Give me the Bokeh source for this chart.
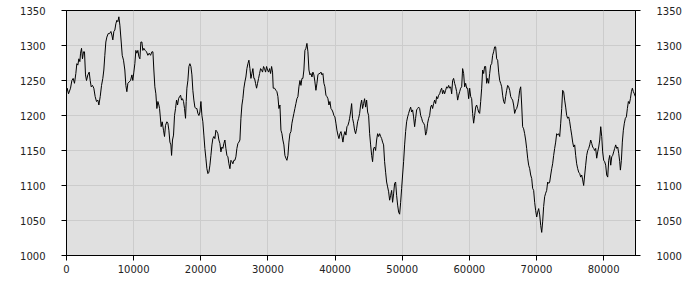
from bokeh.plotting import figure
from bokeh.models import Range1d, LinearAxis, FixedTicker, ColumnDataSource
from bokeh.embed import file_html
from bokeh.resources import INLINE

x_values = [
    0, 100, 300, 600, 800, 990, 1190, 1390, 1540, 1690, 1840, 1990, 2090, 2240, 2380, 2530, 2680, 2830, 2980, 3180,
    3380, 3530, 3680, 3870, 4070, 4270, 4470, 4670, 4820, 5020, 5220, 5410, 5560, 5710, 5860, 6010, 6210, 6410, 6610, 6760,
    6900, 7050, 7200, 7350, 7500, 7650, 7800, 7950, 8150, 8300, 8490, 8690, 8840, 8990, 9140, 9340, 9540, 9740, 9880, 10030,
    10180, 10330, 10480, 10630, 10780, 10930, 11080, 11230, 11370, 11520, 11720, 11920, 12120, 12320, 12520, 12720, 12870, 13010, 13160, 13310,
    13460, 13610, 13760,
    13860, 14100, 14250, 14450, 14600, 14750, 14950, 15100, 15250, 15400, 15550, 15650, 15790, 15940, 16090, 16240, 16390, 16540, 16690, 16840,
    16990, 17140, 17280, 17430, 17580, 17730, 17830, 17930, 18080, 18230, 18380, 18530, 18680, 18820, 18970, 19120, 19270, 19420, 19570, 19720,
    19870, 20020, 20170, 20310, 20460, 20610, 20760, 20910, 21060, 21210, 21360, 21510, 21660, 21800, 21950, 22100, 22250, 22400, 22550, 22700,
    22850, 23000, 23150, 23290, 23440, 23590, 23740, 23890, 24040, 24190, 24340, 24490, 24640, 24780, 24930, 25080, 25230, 25380, 25530, 25680,
    25830, 25980, 26130, 26270, 26420, 26570, 26720, 26870, 27020, 27170, 27320, 27470, 27620, 27760, 27910,
    28010, 28160, 28310, 28460, 28610, 28760, 28910, 29060, 29200, 29350, 29500, 29650, 29800, 29950, 30100, 30250, 30400, 30550, 30690, 30790,
    30990, 31190, 31340, 31490, 31640, 31790, 31940, 32090, 32230, 32380, 32530, 32680, 32830, 32980, 33130, 33280, 33430, 33580, 33720, 33870,
    34020, 34170, 34320, 34470, 34620, 34770, 34920, 35070, 35210, 35360, 35510, 35660, 35810, 35960, 36110, 36260, 36410, 36560, 36700, 36850,
    37000, 37150, 37300, 37450, 37600, 37750, 37900, 38050, 38190, 38340, 38490, 38640, 38790, 38940, 39090, 39240, 39390, 39540, 39680, 39830,
    39980, 40130, 40280, 40430, 40580, 40730, 40880, 41030, 41170, 41320, 41470, 41620, 41770, 41920, 42070,
    42170, 42320, 42470, 42610, 42760, 42910, 43060, 43210, 43360, 43510, 43660, 43810, 43960, 44100, 44250, 44400, 44550, 44700, 44850, 45000,
    45150, 45300, 45450, 45590, 45740, 45890, 46040, 46190, 46340, 46490, 46640, 46790, 46940, 47080, 47230, 47380, 47530, 47680, 47830, 47980,
    48130, 48280, 48430, 48570, 48720, 48870, 49020, 49170, 49320, 49470, 49620, 49770, 49920, 50060, 50210, 50360, 50510, 50660, 50810, 50960,
    51110, 51260, 51410, 51550, 51700, 51850, 52000, 52150, 52300, 52450, 52600, 52750, 52900, 53040, 53190, 53340, 53490, 53640, 53790, 53940,
    54090, 54240, 54390, 54530, 54680, 54830, 54980, 55130, 55280, 55430, 55580, 55730, 55880, 56020, 56170,
    56320, 56470, 56620, 56770, 56920, 57070, 57220, 57370, 57510, 57660, 57810, 57960, 58110, 58260, 58410, 58560, 58710, 58860, 59000, 59150,
    59300, 59450, 59600, 59750, 59900, 60050, 60200, 60350, 60490, 60640, 60790, 60940, 61090, 61240, 61390, 61540, 61690, 61840, 61980, 62130,
    62280, 62430, 62580, 62730, 62880, 63030, 63180, 63330, 63470, 63620, 63770, 63920, 64070, 64220, 64370, 64520, 64670, 64820, 64960, 65110,
    65260, 65410, 65560, 65710, 65860, 66010, 66160, 66310, 66450, 66600, 66750, 66900, 67050, 67200, 67350, 67500, 67650, 67800, 67940, 68090,
    68240, 68390, 68540, 68690, 68840, 68990, 69140, 69290, 69430, 69580, 69730, 69880, 70030, 70180, 70330,
    70480, 70630, 70780, 70920, 71070, 71220, 71370, 71520, 71670, 71820, 71970, 72120, 72270, 72410, 72560, 72710, 72860, 73010, 73160, 73310,
    73460, 73610, 73760, 73900, 74050, 74200, 74350, 74500, 74650, 74800, 74950, 75100, 75250, 75390, 75540, 75690, 75840, 75990, 76140, 76290,
    76440, 76590, 76740, 76880, 77030, 77180, 77330, 77480, 77630, 77780, 77930, 78080, 78230, 78370, 78520, 78670, 78820, 78970, 79120, 79270,
    79420, 79570, 79720, 79860, 80010, 80160, 80310, 80460, 80610, 80760, 80910, 81060, 81210, 81350, 81500, 81650, 81800, 81950, 82100, 82250,
    82400, 82500, 82650, 82790, 82940, 83090, 83240, 83390, 83540, 83690, 83840, 83990, 84140, 84280, 84430, 84580, 84730,
]

y_values = [
    1235, 1239, 1231, 1239, 1250, 1253, 1246, 1260, 1274, 1272, 1281, 1277, 1289, 1296, 1281, 1291, 1291, 1258, 1250, 1258,
    1262, 1250, 1241, 1243, 1239, 1227, 1220, 1222, 1215, 1227, 1243, 1253, 1265, 1286, 1305, 1312, 1317, 1317, 1320, 1315,
    1308, 1320, 1322, 1331, 1336, 1334, 1341, 1329, 1305, 1286, 1279, 1265, 1243, 1234, 1246, 1248, 1250, 1258, 1250, 1262,
    1274, 1293, 1289, 1293, 1284, 1281, 1305, 1305, 1293, 1296, 1293, 1291, 1286, 1289, 1286, 1291, 1291, 1265, 1241, 1231,
    1210, 1220, 1215,
    1210, 1184, 1191, 1179, 1170, 1186, 1191, 1189, 1179, 1162, 1158, 1143, 1165, 1172, 1200, 1210, 1222, 1215, 1224, 1227,
    1229, 1222, 1224, 1220, 1210, 1196, 1220, 1239, 1250, 1270, 1274, 1270, 1258, 1236, 1222, 1212, 1210, 1210, 1203, 1200,
    1205, 1220, 1200, 1191, 1172, 1153, 1139, 1124, 1117, 1119, 1129, 1143, 1158, 1167, 1170, 1167, 1179, 1177, 1174, 1165,
    1160, 1148, 1155, 1153, 1160, 1165, 1153, 1143, 1141, 1131, 1124, 1136, 1134, 1131, 1136, 1136, 1141, 1153, 1160, 1162,
    1165, 1196, 1215, 1224, 1239, 1248, 1255, 1267, 1274, 1279, 1267, 1253, 1260, 1267, 1253,
    1253, 1246, 1239, 1246, 1253, 1260, 1267, 1265, 1262, 1270, 1267, 1262, 1270, 1265, 1262, 1267, 1260, 1270, 1262, 1239,
    1239, 1236, 1234, 1227, 1210, 1215, 1179, 1174, 1165, 1158, 1143, 1139, 1136, 1143, 1162, 1174, 1177, 1189, 1196, 1203,
    1210, 1217, 1224, 1227, 1241, 1250, 1243, 1253, 1253, 1265, 1293, 1296, 1303, 1291, 1265, 1258, 1260, 1255, 1262, 1258,
    1248, 1236, 1246, 1258, 1260, 1260, 1262, 1258, 1260, 1246, 1241, 1229, 1227, 1224, 1215, 1220, 1210, 1208, 1205, 1200,
    1198, 1189, 1179, 1172, 1167, 1174, 1177, 1170, 1162, 1172, 1177, 1172, 1184, 1186, 1191,
    1196, 1205, 1217, 1196, 1189, 1179, 1174, 1181, 1191, 1196, 1203, 1215, 1222, 1210, 1217, 1224, 1212, 1222, 1205, 1200,
    1174, 1158, 1143, 1134, 1153, 1155, 1150, 1165, 1174, 1170, 1174, 1170, 1167, 1162, 1158, 1134, 1119, 1105, 1098, 1091,
    1079, 1086, 1093, 1076, 1088, 1103, 1105, 1086, 1072, 1062, 1059, 1076, 1096, 1115, 1134, 1158, 1177, 1191, 1198, 1203,
    1208, 1212, 1205, 1208, 1198, 1184, 1196, 1208, 1210, 1212, 1210, 1200, 1196, 1191, 1189, 1186, 1172, 1177, 1189, 1196,
    1200, 1212, 1215, 1210, 1217, 1222, 1217, 1227, 1224, 1229, 1231, 1236, 1239, 1231, 1236,
    1231, 1236, 1241, 1239, 1243, 1239, 1241, 1231, 1250, 1253, 1246, 1241, 1234, 1222, 1229, 1234, 1239, 1241, 1267, 1260,
    1241, 1246, 1239, 1239, 1224, 1239, 1227, 1224, 1203, 1189, 1200, 1212, 1215, 1210, 1205, 1203, 1220, 1239, 1265, 1260,
    1270, 1270, 1246, 1253, 1246, 1260, 1272, 1274, 1286, 1291, 1298, 1298, 1281, 1279, 1262, 1250, 1246, 1241, 1229, 1220,
    1217, 1227, 1236, 1243, 1241, 1236, 1227, 1224, 1222, 1215, 1203, 1208, 1210, 1215, 1224, 1236, 1241, 1215, 1184, 1181,
    1174, 1165, 1153, 1139, 1129, 1124, 1115, 1110, 1096, 1093, 1076, 1064, 1055, 1062, 1067,
    1058, 1043, 1033, 1048, 1070, 1084, 1089, 1093, 1105, 1103, 1105, 1115, 1124, 1131, 1143, 1153, 1162, 1174, 1172, 1174,
    1170, 1189, 1210, 1236, 1234, 1222, 1212, 1200, 1196, 1198, 1191, 1181, 1172, 1162, 1155, 1158, 1143, 1131, 1124, 1119,
    1117, 1112, 1115, 1108, 1100, 1115, 1129, 1143, 1150, 1153, 1158, 1165, 1160, 1155, 1153, 1150, 1153, 1139, 1148, 1155,
    1165, 1184, 1170, 1148, 1136, 1134, 1129, 1115, 1112, 1136, 1143, 1129, 1141, 1143, 1148, 1153, 1158, 1153, 1155, 1146,
    1134, 1122, 1136, 1162, 1179, 1189, 1196, 1198, 1210, 1220, 1217, 1224, 1234, 1239, 1234, 1231, 1227,
]

x_ticks = [0, 10000, 20000, 30000, 40000, 50000, 60000, 70000, 80000]
y_ticks = [1000, 1050, 1100, 1150, 1200, 1250, 1300, 1350]

source = ColumnDataSource(data=dict(x=x_values, y=y_values))

p = figure(
    width=700, height=300,
    x_range=Range1d(0, 84750), y_range=Range1d(1000, 1350),
    output_backend="svg", toolbar_location=None,
    min_border_left=66, min_border_right=65, min_border_top=10, min_border_bottom=45,
)
p.background_fill_color = "#e0e0e0"
p.border_fill_color = "white"
p.outline_line_color = "black"
p.outline_line_width = 1

p.line("x", "y", source=source, line_color="black", line_width=1)

right_axis = LinearAxis()
p.add_layout(right_axis, "right")

for ax in [p.xaxis[0], p.yaxis[0], right_axis]:
    ax.axis_line_color = "black"
    ax.major_tick_line_color = "black"
    ax.major_tick_out = 5
    ax.major_tick_in = 0
    ax.minor_tick_line_color = None
    ax.major_label_text_font = "DejaVu Sans"
    ax.major_label_text_font_size = "10px"
    ax.major_label_text_color = "#222222"

p.xaxis[0].ticker = FixedTicker(ticks=x_ticks)
p.xaxis[0].major_label_standoff = 4
p.yaxis[0].ticker = FixedTicker(ticks=y_ticks)
p.yaxis[0].major_label_standoff = 16
right_axis.ticker = FixedTicker(ticks=y_ticks)
right_axis.major_label_standoff = 16

p.xgrid.ticker = FixedTicker(ticks=x_ticks)
p.ygrid.ticker = FixedTicker(ticks=y_ticks)
p.grid.grid_line_color = "#cccccc"
p.grid.grid_line_width = 1

open("out.html", "w").write(file_html(p, INLINE))
